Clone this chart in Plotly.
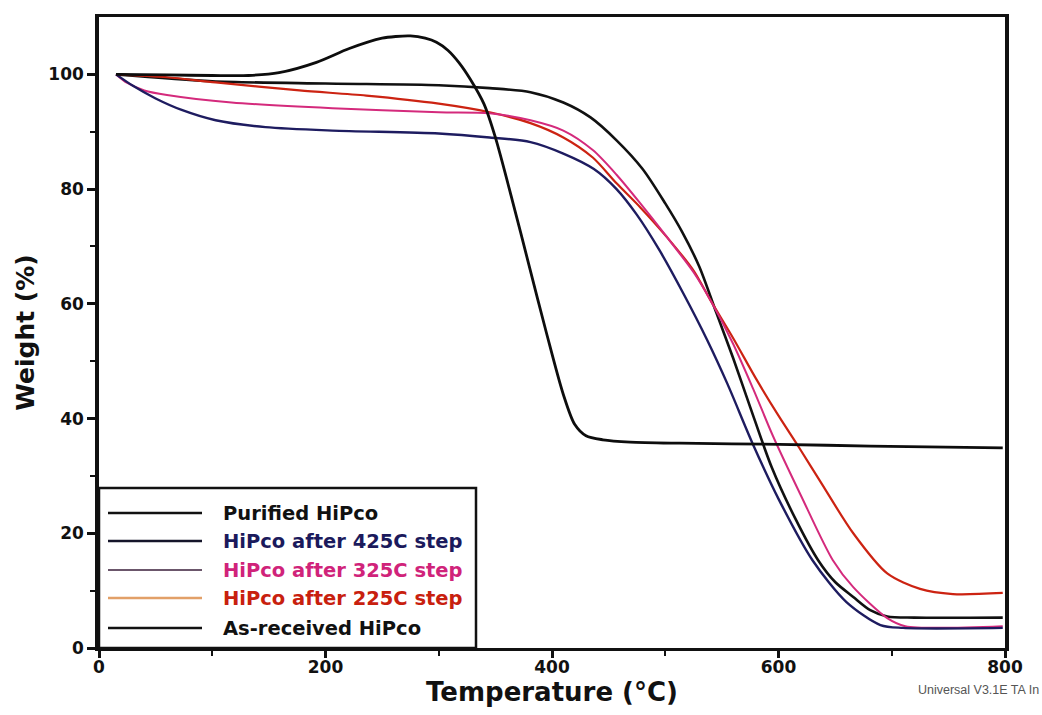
import plotly.graph_objects as go

# ---- data (temperature in °C, weight in %) ----
purified_T = [15, 60, 100, 132, 159, 192, 221, 250, 262, 275, 288, 298, 308, 318, 328, 340, 350, 365, 380, 395, 410, 420, 430, 445, 469, 513, 600, 681, 798]
purified_W = [100, 99.9, 99.8, 99.8, 100.3, 102.1, 104.5, 106.3, 106.6, 106.7, 106.3, 105.6, 104.2, 102.0, 99.1, 94.8, 89.0, 78.0, 66.5, 55.0, 44.2, 39.0, 37.0, 36.3, 35.9, 35.7, 35.5, 35.2, 34.9]

s425_T = [15, 30, 50, 73, 103, 147, 206, 300, 345, 381, 410, 437, 457, 475, 495, 516, 537, 555, 577, 600, 630, 660, 690, 710, 798]
s425_W = [100, 98.0, 95.8, 93.8, 92.0, 90.8, 90.2, 89.7, 89.0, 88.2, 86.2, 83.5, 80.0, 75.5, 69.3, 61.8, 53.7, 46.0, 35.7, 26.0, 15.3, 8.0, 4.0, 3.5, 3.5]

s325_T = [15, 25, 40, 60, 117, 206, 300, 345, 381, 410, 436, 457, 478, 500, 525, 540, 560, 578, 595, 620, 648, 666, 696, 712, 798]
s325_W = [100, 98.5, 97.2, 96.4, 95.1, 94.1, 93.4, 93.2, 92.0, 90.2, 86.8, 82.5, 77.5, 72.0, 65.5, 60.6, 53.0, 45.0, 37.0, 26.5, 15.3, 10.6, 5.2, 3.8, 3.8]

s225_T = [15, 60, 103, 177, 236, 300, 345, 381, 410, 436, 457, 478, 502, 525, 540, 560, 580, 600, 618, 637, 666, 696, 725, 754, 798]
s225_W = [100, 99.5, 98.6, 97.2, 96.3, 94.9, 93.4, 91.5, 89.0, 85.5, 81.0, 76.8, 71.5, 65.8, 60.6, 54.0, 47.0, 40.5, 35.0, 29.0, 20.0, 13.0, 10.3, 9.4, 9.6]

asrec_T = [15, 100, 200, 300, 345, 381, 410, 434, 457, 480, 500, 515, 530, 545, 560, 575, 594, 615, 635, 650, 666, 681, 696, 720, 798]
asrec_W = [100, 98.8, 98.4, 98.1, 97.6, 96.9, 95.1, 92.5, 88.5, 83.5, 77.5, 72.5, 66.5, 58.5, 50.5, 42.0, 31.5, 22.5, 15.3, 11.5, 8.9, 6.6, 5.5, 5.3, 5.3]

legend_labels = ["Purified HiPco", "HiPco after 425C step", "HiPco after 325C step",
                 "HiPco after 225C step", "As-received HiPco"]
legend_text_colors = ["#111111", "#1b1a5c", "#d0237a", "#c8200e", "#111111"]
legend_line_colors = ["#111111", "#15152a", "#3a1e3a", "#e2a068", "#111111"]
legend_line_widths = [2.5, 2.5, 1.5, 2.5, 2.5]

x_ticks = [0, 200, 400, 600, 800]
y_ticks = [0, 20, 40, 60, 80, 100]

FONT = "DejaVu Sans, Liberation Sans, Arial, sans-serif"

fig = go.Figure()

series = [
    (asrec_T, asrec_W, "#111111", 2.6),
    (s225_T, s225_W, "#cc2312", 2.2),
    (s325_T, s325_W, "#d42a7c", 2.0),
    (s425_T, s425_W, "#1e1c60", 2.4),
    (purified_T, purified_W, "#0d0d0d", 2.8),
]
for t, w, c, lw in series:
    fig.add_trace(go.Scatter(x=t, y=w, mode="lines",
                             line=dict(color=c, width=lw, shape="spline", smoothing=0.8),
                             showlegend=False, hoverinfo="skip"))

# plot area in pixels: x 99..1005, y 17..648
W_PX, H_PX = 1042, 715
L, R, T, B = 99, 37, 17, 67
pw = W_PX - L - R
ph = H_PX - T - B

def px_x(px):
    return (px - L) / pw

def px_y(py):
    return (H_PX - B - py) / ph

shapes = []
# legend box
shapes.append(dict(type="rect", xref="paper", yref="paper",
                   x0=0, x1=px_x(476), y0=0, y1=px_y(488),
                   line=dict(color="#111111", width=2.5), fillcolor="rgba(0,0,0,0)", layer="above"))
rows_py = [513, 541, 570, 598, 628]
annotations = []
for lab, tc, lc, lw, py in zip(legend_labels, legend_text_colors, legend_line_colors, legend_line_widths, rows_py):
    shapes.append(dict(type="line", xref="paper", yref="paper",
                       x0=px_x(108), x1=px_x(202), y0=px_y(py), y1=px_y(py),
                       line=dict(color=lc, width=lw), layer="above"))
    annotations.append(dict(xref="paper", yref="paper", x=px_x(221), y=px_y(py),
                            xanchor="left", yanchor="middle", showarrow=False,
                            text="<b>" + lab + "</b>",
                            font=dict(family=FONT, size=19.5, color=tc)))

annotations.append(dict(xref="paper", yref="paper", x=px_x(1041), y=px_y(690),
                        xanchor="right", yanchor="middle", showarrow=False,
                        text="Universal V3.1E TA In",
                        font=dict(family="Liberation Sans, Arial", size=12.5, color="#555555")))

fig.update_layout(
    width=W_PX, height=H_PX,
    margin=dict(l=L, r=R, t=T, b=B),
    paper_bgcolor="white", plot_bgcolor="white",
    shapes=shapes, annotations=annotations,
    font=dict(family=FONT, color="#111111"),
    xaxis=dict(range=[0, 800], tickvals=x_ticks,
               ticktext=["<b>%d</b>" % v for v in x_ticks],
               tickfont=dict(family=FONT, size=17, color="#111111"),
               showgrid=False, zeroline=False,
               showline=True, linecolor="#111111", linewidth=3, mirror=True,
               ticks="outside", ticklen=7, tickwidth=2.5, tickcolor="#111111",
               ticklabelstandoff=-5,
               minor=dict(tickvals=[100, 300, 500, 700], ticks="outside", ticklen=5,
                          tickwidth=2, tickcolor="#111111"),
               title=dict(text="<b>Temperature (°C)</b>", standoff=4,
                          font=dict(family=FONT, size=26, color="#111111"))),
    yaxis=dict(range=[0, 110], tickvals=y_ticks,
               ticktext=["<b>%d</b>" % v for v in y_ticks],
               tickfont=dict(family=FONT, size=17, color="#111111"),
               showgrid=False, zeroline=False,
               showline=True, linecolor="#111111", linewidth=3.5, mirror=True,
               ticks="outside", ticklen=8, tickwidth=2.5, tickcolor="#111111",
               minor=dict(tickvals=[10, 30, 50, 70, 90], ticks="outside", ticklen=5,
                          tickwidth=2, tickcolor="#111111"),
               title=dict(text="<b>Weight (%)</b>", standoff=8,
                          font=dict(family=FONT, size=25, color="#111111"))),
)

fig.write_html("out.html")
